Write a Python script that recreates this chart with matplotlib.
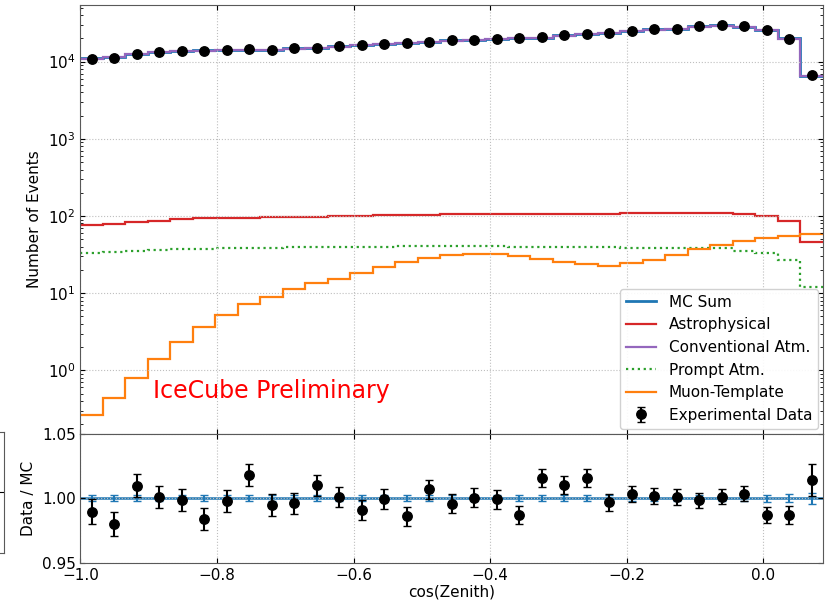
import numpy as np
import matplotlib
matplotlib.use("Agg")
import matplotlib.pyplot as plt
from matplotlib.ticker import FormatStrFormatter

# cos(zenith) binning: 33 bins from -1 up to the 85 deg horizon cut
bin_edges = np.linspace(-1.0, np.cos(np.radians(85.0)), 34)

# experimental counts per bin
data_counts = [10900, 11230, 12660, 13320, 13850, 13850, 14140, 14570, 14140, 14830,
               15150, 15740, 16420, 16920, 17430, 18120, 18840, 19230, 19640, 20000,
               20850, 22130, 23010, 23500, 24940, 26160, 26710, 28610, 29480, 28610,
               25700, 19820, 6700]

# data / MC ratio per bin
ratio_vals = [0.9896, 0.980, 1.0096, 1.001, 0.9987, 0.984, 0.998, 1.018, 0.9948, 0.9961,
              1.0101, 1.001, 0.9912, 0.9992, 0.986, 1.0070, 0.9958, 1.0005, 0.9992, 0.9868,
              1.0156, 1.0101, 1.0156, 0.9969, 1.0031, 1.0020, 1.0012, 0.9984, 1.0012, 1.0036,
              0.9872, 0.9872, 1.0140]

# relative MC statistical uncertainty
mc_rel_err = [0.0024] * 30 + [0.0026, 0.0031, 0.0043]

astro = [76, 79, 84.5, 87, 91.5, 94.5, 94.5, 95, 96.5, 97.5,
         98.5, 100, 101, 102, 102.5, 104, 105, 105, 105, 105.5,
         106, 106, 106.5, 107, 108.5, 108.5, 108.5, 108.5, 108.5, 106.5,
         100.5, 87, 46.5]

prompt = [32.9, 33.9, 35.3, 36.3, 37.4, 37.4, 38.2, 38.9, 38.9, 39.5,
          40, 40, 40, 40, 40.5, 40.5, 40.5, 40.5, 40.5, 40,
          40, 39.5, 39.5, 39.5, 39, 39, 38.5, 38, 38, 35.3,
          33.2, 26.9, 12.1]

muon = [0.263, 0.441, 0.787, 1.40, 2.33, 3.68, 5.26, 7.18, 9.01, 11.3,
        13.4, 15.4, 18.5, 21.7, 25.2, 28.6, 31.3, 32.5, 32.5, 30.4,
        28.0, 25.2, 23.7, 22.8, 24.4, 27.0, 31.0, 37.1, 42.2, 47.5,
        52.0, 55.2, 58.1]

data = np.array(data_counts, dtype=float)
mc_sum = data / np.array(ratio_vals)
conv = mc_sum - np.array(astro) - np.array(prompt) - np.array(muon)
centers = 0.5 * (bin_edges[1:] + bin_edges[:-1])
data_err = np.sqrt(data)

plt.rcParams['font.family'] = 'DejaVu Sans'
plt.rcParams['font.size'] = 11

fig = plt.figure(figsize=(8.33, 6.01), dpi=100)
ax = fig.add_axes([0.0966, 0.2787, 0.8911, 0.7128])
rax = fig.add_axes([0.0966, 0.0632, 0.8911, 0.2155], sharex=ax)

# top panel
ax.stairs(mc_sum, bin_edges, baseline=None, color='#1f77b4', lw=2, label='MC Sum')
ax.stairs(astro, bin_edges, baseline=None, color='#d62728', lw=1.6, label='Astrophysical')
ax.stairs(conv, bin_edges, baseline=None, color='#9467bd', lw=1.6, label='Conventional Atm.')
ax.stairs(prompt, bin_edges, baseline=None, color='#2ca02c', lw=1.6, ls=':', label='Prompt Atm.')
ax.stairs(muon, bin_edges, baseline=None, color='#ff7f0e', lw=1.6, label='Muon-Template')
ax.errorbar(centers, data, yerr=data_err, fmt='o', color='black', ms=6.8,
            capsize=3, elinewidth=1.5, label='Experimental Data')

ax.set_yscale('log')
ax.set_ylim(0.152, 5.4e4)
ax.set_xlim(bin_edges[0], bin_edges[-1])
ax.set_ylabel('Number of Events')
ax.grid(True, ls=':', color='0.75', lw=0.8)
ax.tick_params(which='both', direction='in', top=True, right=True, labelbottom=False)
ax.text(-0.894, 0.54, 'IceCube Preliminary', color='red', fontsize=17,
        ha='left', va='center')
ax.legend(loc='lower right', fontsize=11, framealpha=0.9, borderaxespad=0.3)

# ratio panel
rax.stairs(np.ones(len(centers)), bin_edges, baseline=None, color='#1f77b4', lw=1.8)
rax.errorbar(centers, np.ones(len(centers)), yerr=mc_rel_err, fmt='none',
             ecolor='#1f77b4', capsize=3, elinewidth=1.5)
rax.errorbar(centers, ratio_vals, yerr=data_err / mc_sum, fmt='o', color='black',
             ms=6.8, capsize=3, elinewidth=1.5)
rax.set_ylim(0.95, 1.05)
rax.set_yticks([0.95, 1.00, 1.05])
rax.yaxis.set_major_formatter(FormatStrFormatter('%.2f'))
rax.set_xticks([-1.0, -0.8, -0.6, -0.4, -0.2, 0.0])
rax.set_xlabel('cos(Zenith)', labelpad=1)
rax.set_ylabel('Data / MC')
rax.grid(True, ls=':', color='0.75', lw=0.8)
rax.tick_params(which='both', direction='in', top=True, right=True)

for a in (ax, rax):
    for s in a.spines.values():
        s.set_color('0.35')

fig.align_ylabels([ax, rax])

# stray frame cut off at the left edge
sax = fig.add_axes([-0.05, 0.0799, 0.05 + 4 / 833, 0.2013])
sax.set_xticks([])
sax.yaxis.tick_right()
sax.set_ylim(0, 1)
sax.set_yticks([0.5])
sax.set_yticklabels([])
sax.tick_params(direction='in')
for s in sax.spines.values():
    s.set_color('0.35')

fig.savefig('out.png', dpi=100)
